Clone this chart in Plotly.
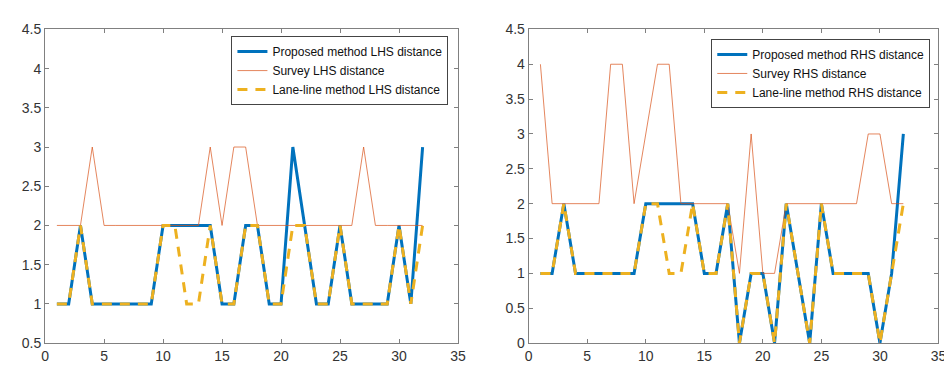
import plotly.graph_objects as go

x = list(range(1, 33))

proposed_lhs = [1, 1, 2, 1, 1, 1, 1, 1, 1, 2, 2, 2, 2, 2, 1, 1, 2, 2, 1, 1, 3, 2, 1, 1, 2, 1, 1, 1, 1, 2, 1, 3]
survey_lhs   = [2, 2, 2, 3, 2, 2, 2, 2, 2, 2, 2, 2, 2, 3, 2, 3, 3, 2, 2, 2, 2, 2, 2, 2, 2, 2, 3, 2, 2, 2, 2, 2]
laneline_lhs = [1, 1, 2, 1, 1, 1, 1, 1, 1, 2, 2, 1, 1, 2, 1, 1, 2, 2, 1, 1, 2, 2, 1, 1, 2, 1, 1, 1, 1, 2, 1, 2]

proposed_rhs = [1, 1, 2, 1, 1, 1, 1, 1, 1, 2, 2, 2, 2, 2, 1, 1, 2, 0, 1, 1, 0, 2, 1, 0, 2, 1, 1, 1, 1, 0, 1, 3]
survey_rhs   = [4, 2, 2, 2, 2, 2, 4, 4, 2, 3, 4, 4, 2, 2, 2, 2, 2, 1, 3, 1, 1, 2, 2, 2, 2, 2, 2, 2, 3, 3, 2, 2]
laneline_rhs = [1, 1, 2, 1, 1, 1, 1, 1, 1, 2, 2, 1, 1, 2, 1, 1, 2, 0, 1, 1, 0, 2, 1, 0, 2, 1, 1, 1, 1, 0, 1, 2]

names_lhs = ["Proposed method LHS distance", "Survey LHS distance", "Lane-line method LHS distance"]
names_rhs = ["Proposed method RHS distance", "Survey RHS distance", "Lane-line method RHS distance"]

BLUE = "#0072BD"
ORANGE = "rgba(217,83,25,0.7)"
YELLOW = "#EDB120"
FONT = "Arial, Liberation Sans, Helvetica, sans-serif"

fig = go.Figure()

def add_set(vals, names, xa, ya, leg):
    styles = [
        dict(color=BLUE, width=3),
        dict(color=ORANGE, width=1),
        dict(color=YELLOW, width=3, dash="10px,8px"),
    ]
    for v, n, s in zip(vals, names, styles):
        fig.add_trace(go.Scatter(x=x, y=v, mode="lines", name=n, line=s,
                                 xaxis=xa, yaxis=ya, legend=leg))

add_set([proposed_lhs, survey_lhs, laneline_lhs], names_lhs, "x", "y", "legend")
add_set([proposed_rhs, survey_rhs, laneline_rhs], names_rhs, "x2", "y2", "legend2")

ytop = 1 - 14 / 367
ybot = 1 - 342 / 367

axis_common = dict(
    showline=True, linecolor="#808080", linewidth=1, mirror="ticks",
    ticks="inside", ticklen=4, tickcolor="#808080", showgrid=False, zeroline=False,
    tickfont=dict(family=FONT, size=14, color="#333333"),
)

fig.update_layout(
    width=952, height=367,
    margin=dict(l=0, r=0, t=0, b=0),
    paper_bgcolor="white", plot_bgcolor="white",
    font=dict(family=FONT, color="#262626"),
    xaxis=dict(domain=[33.5 / 952, 451.7 / 952], range=[0, 35], dtick=5, anchor="y", **axis_common),
    yaxis=dict(domain=[ybot, ytop], range=[0.5, 4.5], dtick=0.5, anchor="x", **axis_common),
    xaxis2=dict(domain=[523.3 / 952, 938.3 / 952], range=[0, 35], dtick=5, anchor="y2", **axis_common),
    yaxis2=dict(domain=[ybot, ytop], range=[0, 4.5], dtick=0.5, anchor="x2", **axis_common),
    legend=dict(x=442 / 952, y=1 - 21 / 367, xanchor="right", yanchor="top",
                bgcolor="white", bordercolor="#444444", borderwidth=1,
                font=dict(family=FONT, size=12, color="#111111"),
                tracegroupgap=0, itemwidth=30),
    legend2=dict(x=930 / 952, y=1 - 24 / 367, xanchor="right", yanchor="top",
                 bgcolor="white", bordercolor="#444444", borderwidth=1,
                 font=dict(family=FONT, size=12, color="#111111"),
                 tracegroupgap=0, itemwidth=30),
    showlegend=True,
)

fig.write_html("out.html")
